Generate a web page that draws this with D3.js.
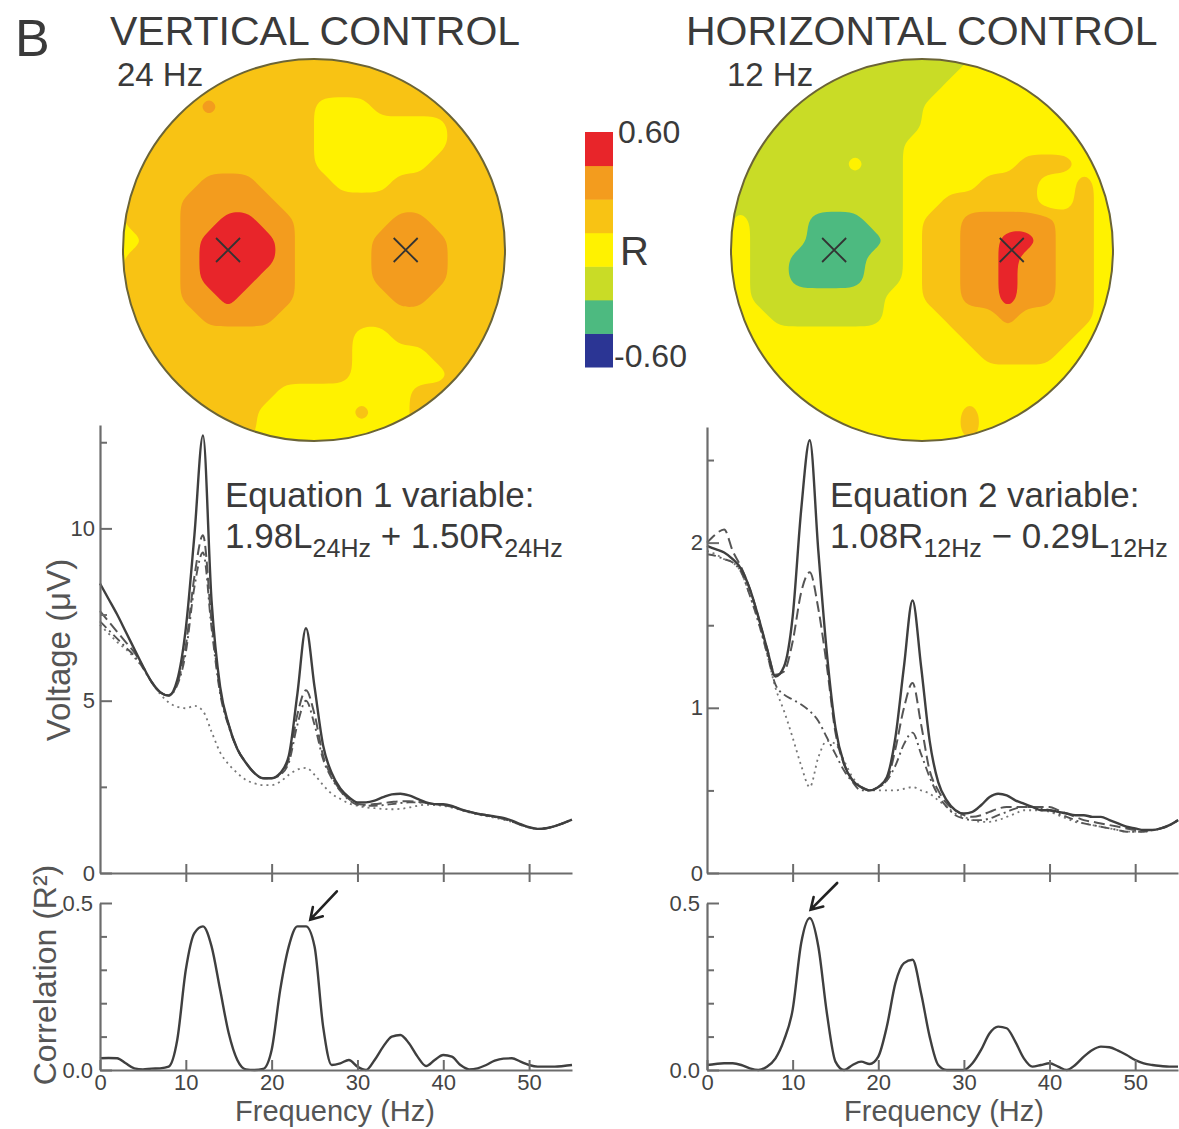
<!DOCTYPE html>
<html>
<head>
<meta charset="utf-8">
<script src="https://cdn.jsdelivr.net/npm/d3@7"></script>
<style>
  body { margin: 0; background: #fff; }
  text { font-family: "Liberation Sans", Arial, Helvetica, sans-serif; }
</style>
</head>
<body>
<div id="chart"></div>
<script>
// ---- data ----
const freqs = [0,1,2,3,4,5,6,7,8,9,10,11,12,13,14,15,16,17,18,19,20,21,22,23,24,25,26,27,
  28,29,30,31,32,33,34,35,36,37,38,39,40,41,42,43,44,45,46,47,48,49,50,51,52,53,54,55];

// vertical control, voltage (uV)
const voltSolidL = [8.4,7.95,7.5,7.0,6.5,6.0,5.55,5.25,5.15,5.6, 7.1,9.8,12.7,7.9,5.4,4.3,3.6,3.2,2.9,2.75,
  2.75,2.9,3.4,5.2,7.1,5.4,3.7,2.9,2.45,2.2, 2.05,2.05,2.1,2.2,2.28,2.3,2.25,2.15,2.05,2.0,
  2.0,1.95,1.85,1.78,1.72,1.68,1.64,1.6,1.52,1.42, 1.33,1.28,1.3,1.36,1.45,1.55];
const voltDashL = [7.6,7.3,7.0,6.7,6.4,6.0,5.55,5.25,5.15,5.5, 6.6,8.6,9.8,7.3,5.3,4.3,3.6,3.2,2.9,2.75,
  2.75,2.88,3.3,4.6,5.3,4.6,3.4,2.8,2.4,2.15, 2.0,1.98,2.0,2.03,2.06,2.08,2.08,2.06,2.04,2.0,
  1.98,1.93,1.85,1.78,1.72,1.68,1.63,1.58,1.5,1.4, 1.32,1.28,1.3,1.36,1.45,1.55];
const voltDashDotL = [7.3,7.05,6.8,6.55,6.3,5.95,5.55,5.25,5.15,5.45, 6.4,8.3,9.3,7.1,5.2,4.25,3.6,3.2,2.9,2.75,
  2.75,2.85,3.2,4.3,5.0,4.3,3.3,2.75,2.38,2.12, 1.98,1.95,1.95,1.97,2.0,2.03,2.05,2.05,2.03,2.0,
  1.97,1.92,1.85,1.78,1.72,1.67,1.62,1.57,1.49,1.4, 1.32,1.28,1.3,1.36,1.45,1.55];
const voltDotL = [7.2,6.95,6.7,6.5,6.25,5.95,5.55,5.2,4.95,4.82, 4.78,4.85,4.7,4.1,3.5,3.15,2.9,2.7,2.6,2.55,
  2.55,2.65,2.85,3.0,3.05,2.85,2.55,2.3,2.15,2.02, 1.95,1.9,1.88,1.86,1.85,1.86,1.9,1.95,1.98,1.97,
  1.95,1.9,1.83,1.76,1.7,1.65,1.6,1.55,1.48,1.4, 1.32,1.28,1.3,1.36,1.45,1.55];

// horizontal control, voltage (uV)
const voltSolidR = [1.98,1.96,1.94,1.9,1.84,1.72,1.55,1.36,1.19,1.25, 1.55,2.2,2.62,1.95,1.33,0.88,0.66,0.56,0.52,0.5,
  0.52,0.58,0.82,1.25,1.65,1.25,0.8,0.55,0.44,0.38, 0.36,0.37,0.41,0.46,0.48,0.47,0.44,0.42,0.4,0.38,
  0.38,0.37,0.36,0.35,0.35,0.34,0.34,0.32,0.3,0.28, 0.27,0.26,0.26,0.27,0.29,0.32];
const voltDashR = [2.0,2.05,2.08,1.95,1.85,1.72,1.55,1.36,1.2,1.22, 1.4,1.7,1.82,1.6,1.25,0.85,0.66,0.56,0.52,0.5,
  0.52,0.56,0.75,1.0,1.15,0.9,0.62,0.5,0.42,0.38, 0.35,0.34,0.35,0.37,0.39,0.4,0.4,0.4,0.4,0.4,
  0.4,0.38,0.36,0.34,0.32,0.31,0.3,0.29,0.28,0.27, 0.26,0.26,0.26,0.27,0.29,0.32];
const voltDashDotR = [1.93,1.92,1.9,1.88,1.82,1.68,1.52,1.33,1.14,1.08, 1.05,1.02,0.98,0.92,0.82,0.72,0.62,0.55,0.5,0.5,
  0.52,0.56,0.65,0.78,0.85,0.72,0.58,0.47,0.4,0.35, 0.33,0.32,0.32,0.33,0.35,0.37,0.39,0.4,0.4,0.39,
  0.38,0.36,0.34,0.32,0.3,0.29,0.28,0.27,0.26,0.25, 0.25,0.25,0.26,0.27,0.29,0.32];
const voltDotR = [1.95,1.93,1.9,1.88,1.82,1.68,1.52,1.33,1.12,0.98, 0.82,0.65,0.52,0.7,0.8,0.78,0.68,0.58,0.52,0.5,
  0.5,0.5,0.5,0.51,0.52,0.5,0.48,0.44,0.4,0.36, 0.34,0.32,0.31,0.31,0.32,0.34,0.36,0.38,0.38,0.38,
  0.37,0.35,0.33,0.31,0.3,0.29,0.28,0.27,0.26,0.25, 0.25,0.25,0.26,0.27,0.29,0.32];

// correlation (R^2)
const corrL = [0.035,0.036,0.035,0.02,0.005,0.002,0.004,0.005,0.01,0.09, 0.3,0.41,0.43,0.37,0.24,0.11,0.03,0.002,0.0,0.003,
  0.06,0.24,0.37,0.43,0.43,0.37,0.13,0.015,0.02,0.03, 0.01,0.0,0.03,0.07,0.1,0.105,0.08,0.04,0.012,0.03,
  0.045,0.04,0.015,0.002,0.005,0.015,0.028,0.034,0.035,0.025, 0.015,0.01,0.01,0.01,0.012,0.015];
const corrR = [0.015,0.018,0.02,0.02,0.015,0.005,0.0,0.01,0.035,0.09, 0.18,0.38,0.455,0.37,0.17,0.025,0.0,0.015,0.025,0.018,
  0.04,0.13,0.26,0.32,0.33,0.23,0.1,0.015,0.0,0.0, 0.0,0.02,0.06,0.11,0.13,0.125,0.085,0.035,0.01,0.015,
  0.02,0.01,0.0,0.015,0.04,0.06,0.07,0.068,0.058,0.045, 0.03,0.02,0.015,0.012,0.01,0.01];

// topographic maps: one digit per cell = colour band (0 = -0.60 ... 6 = +0.60)
const mapVertical = [
  "44444444444444444444",
  "44444444444444444444",
  "44445444443334444444",
  "44444444443333333444",
  "44444444443333333444",
  "44444444443333334444",
  "44445554444333444444",
  "44455555444444444444",
  "44455665544444554444",
  "34456666544445555444",
  "44456666544445555444",
  "44456665544445555444",
  "44455655544444554444",
  "44445555444444444444",
  "44444444444433444444",
  "44444444444433334444",
  "44444444444433333444",
  "44444444333333344444",
  "44444443333343344444",
  "44444443333333344444"
];
const mapHorizontal = [
  "33332222222233333333",
  "33322222222333333333",
  "32222222223333333333",
  "22222222223333333333",
  "22222222233333333333",
  "22222232233333344433",
  "22222222233334443343",
  "22222222233444443343",
  "32221112234455555443",
  "32221111234455665443",
  "32211112234455655443",
  "32211112234455655443",
  "32222222334455655443",
  "33222222333444544443",
  "33333333333344444433",
  "33333333333334444333",
  "33333333333333333333",
  "33333333333333333333",
  "33333333333343333333",
  "33333333333343333333"
];
// electrode positions, in head radii from the centre
const electrodesVertical = [[-0.45, 0], [0.48, 0]];
const electrodesHorizontal = [[-0.46, 0], [0.47, 0]];

const bandColors = ["#2b3594", "#4dba80", "#c9dc26", "#fff200", "#f8c314", "#f39c1e", "#e8252a"];
const bandThresholds = [-0.5, 0.5, 1.5, 2.5, 3.5, 4.5, 5.5];
const colorbarLabels = ["0.60", "R", "-0.60"];

const voltTicksL = [0, 5, 10], voltMinorL = [2.5, 7.5, 12.5];
const voltTicksR = [0, 1, 2], voltMinorR = [0.5, 1.5, 2.5];
const freqTicks = [0, 10, 20, 30, 40, 50];
const corrTicks = [0, 0.5], corrMinor = [0.1, 0.2, 0.3, 0.4];

// ---- drawing ----
const W = 1179, H = 1129;
const ink = "#3a3a3a", axisCol = "#6c6c6c", lineCol = "#3f3f3f";

const svg = d3.select("#chart").append("svg")
  .attr("width", W).attr("height", H)
  .style("background", "#fff");

function txt(x, y, s, size, anchor) {
  return svg.append("text")
    .attr("x", x).attr("y", y)
    .attr("font-size", size)
    .attr("fill", ink)
    .attr("text-anchor", anchor || "start")
    .text(s);
}

// heads
function drawHead(rows, cx, cy, r, electrodes, id) {
  const nx = rows[0].length, ny = rows.length;
  const values = rows.join("").split("").map(Number);
  const contours = d3.contours().size([nx, ny]).thresholds(bandThresholds)(values);
  const sx = 2 * r / nx, sy = 2 * r / ny;
  // rounded outlines so the bands look like the smooth blobs of the figure
  const ring = d3.line().curve(d3.curveBasisClosed);
  const toPath = mp => mp.coordinates
    .map(poly => poly.map(rg => ring(rg.slice(0, -1).map(p => [cx - r + p[0] * sx, cy - r + p[1] * sy]))).join(""))
    .join("");

  svg.append("clipPath").attr("id", id)
    .append("circle").attr("cx", cx).attr("cy", cy).attr("r", r);

  const g = svg.append("g").attr("clip-path", `url(#${id})`);
  g.append("circle").attr("cx", cx).attr("cy", cy).attr("r", r).attr("fill", bandColors[3]);
  g.selectAll("path")
    .data(contours)
    .join("path")
      .attr("d", toPath)
      .attr("fill-rule", "evenodd")
      .attr("fill", (d, i) => bandColors[i]);

  svg.append("circle")
    .attr("cx", cx).attr("cy", cy).attr("r", r)
    .attr("fill", "none")
    .attr("stroke", "#6b6436")
    .attr("stroke-width", 2);

  const s = 12;
  electrodes.forEach(e => {
    const ex = cx + e[0] * r, ey = cy + e[1] * r;
    svg.append("path")
      .attr("d", `M${ex - s},${ey - s}L${ex + s},${ey + s}M${ex - s},${ey + s}L${ex + s},${ey - s}`)
      .attr("stroke", "#333")
      .attr("stroke-width", 1.8);
  });
}

drawHead(mapVertical, 314, 250, 191, electrodesVertical, "clipV");
drawHead(mapHorizontal, 922, 250, 191, electrodesHorizontal, "clipH");

// colour bar
const cbY = d3.scaleLinear().domain([0, bandColors.length]).range([367, 132]);
svg.append("g").selectAll("rect")
  .data(bandColors)
  .join("rect")
    .attr("x", 585)
    .attr("width", 28)
    .attr("y", (d, i) => cbY(i + 1))
    .attr("height", (d, i) => cbY(i) - cbY(i + 1) + 0.5)
    .attr("fill", d => d);
txt(618, 143, colorbarLabels[0], 32);
txt(620, 265, colorbarLabels[1], 40);
txt(614, 367, colorbarLabels[2], 32);

// titles
txt(15, 56, "B", 52);
txt(110, 45, "VERTICAL CONTROL", 41);
txt(117, 86, "24 Hz", 33);
txt(686, 45, "HORIZONTAL CONTROL", 41);
txt(727, 86, "12 Hz", 33);

// axis helpers
function styleAxis(g, fontSize) {
  g.select(".domain").attr("stroke", axisCol).attr("stroke-width", 2.2);
  g.selectAll(".tick line").attr("stroke", axisCol).attr("stroke-width", 2);
  g.selectAll(".tick text").attr("fill", "#444").attr("font-size", fontSize)
    .attr("font-family", "'Liberation Sans', Arial, sans-serif");
}

function yAxis(x0, scale, major, minor, fmt, pad) {
  svg.append("g").attr("transform", `translate(${x0},0)`)
    .call(d3.axisLeft(scale).tickValues(minor).tickFormat("").tickSizeInner(-7).tickSizeOuter(0))
    .call(g => { styleAxis(g, 22); g.select(".domain").remove(); });
  svg.append("g").attr("transform", `translate(${x0},0)`)
    .call(d3.axisLeft(scale).tickValues(major).tickFormat(fmt).tickSizeInner(-12).tickSizeOuter(0).tickPadding(pad))
    .call(g => styleAxis(g, 22));
}

function voltXAxis(y0, scale) {
  svg.append("g").attr("transform", `translate(0,${y0})`)
    .call(d3.axisBottom(scale).tickValues(freqTicks.slice(1)).tickFormat("").tickSizeOuter(0))
    .call(g => {
      styleAxis(g, 22);
      g.selectAll(".tick line").attr("y1", -9).attr("y2", 9);
    });
}

function corrXAxis(y0, scale) {
  svg.append("g").attr("transform", `translate(0,${y0})`)
    .call(d3.axisBottom(scale).tickValues(freqTicks).tickFormat(d3.format("d"))
      .tickSizeInner(-10).tickSizeOuter(0).tickPadding(4))
    .call(g => styleAxis(g, 22));
}

const seriesStyles = [
  { dash: "2,4", width: 1.8, color: "#777" },
  { dash: "9,4,2,4", width: 1.9, color: "#555" },
  { dash: "11,5", width: 2.0, color: "#555" },
  { dash: null, width: 2.4, color: lineCol }
];

function drawLines(series, xs, ys) {
  const line = d3.line()
    .x((d, i) => xs(freqs[i]))
    .y(d => ys(d))
    .curve(d3.curveMonotoneX);
  series.forEach((s, k) => {
    const st = seriesStyles[seriesStyles.length - series.length + k];
    svg.append("path")
      .datum(s)
      .attr("d", line)
      .attr("fill", "none")
      .attr("stroke", st.color)
      .attr("stroke-width", st.width)
      .attr("stroke-dasharray", st.dash)
      .attr("stroke-linejoin", "round");
  });
}

function arrow(xs, ys, tip, tail) {
  const x1 = xs(tail[0]), y1 = ys(tail[1]), x2 = xs(tip[0]), y2 = ys(tip[1]);
  const a = Math.atan2(y2 - y1, x2 - x1), L = 13, spread = 0.55;
  const p1 = [x2 - L * Math.cos(a - spread), y2 - L * Math.sin(a - spread)];
  const p2 = [x2 - L * Math.cos(a + spread), y2 - L * Math.sin(a + spread)];
  svg.append("path")
    .attr("d", `M${x1},${y1}L${x2},${y2}M${p1[0]},${p1[1]}L${x2},${y2}L${p2[0]},${p2[1]}`)
    .attr("fill", "none")
    .attr("stroke", "#222")
    .attr("stroke-width", 2.6)
    .attr("stroke-linecap", "round");
}

// ---- left panels ----
const xL = d3.scaleLinear().domain([0, 55]).range([100, 572]);
const yVL = d3.scaleLinear().domain([0, 13]).range([873, 425]);
const yCL = d3.scaleLinear().domain([0, 0.5]).range([1070, 903]);

drawLines([voltDotL, voltDashDotL, voltDashL, voltSolidL], xL, yVL);
yAxis(100, yVL, voltTicksL, voltMinorL, d3.format("d"), 5);
voltXAxis(873, xL);

drawLines([corrL], xL, yCL);
yAxis(100, yCL, corrTicks, corrMinor, d3.format(".1f"), 7);
corrXAxis(1070, xL);
arrow(xL, yCL, [24.5, 0.45], [27.6, 0.535]);

// ---- right panels ----
const xR = d3.scaleLinear().domain([0, 55]).range([707, 1178]);
const yVR = d3.scaleLinear().domain([0, 2.7]).range([873, 427]);
const yCR = d3.scaleLinear().domain([0, 0.5]).range([1070, 903]);

drawLines([voltDotR, voltDashDotR, voltDashR, voltSolidR], xR, yVR);
yAxis(707, yVR, voltTicksR, voltMinorR, d3.format("d"), 4);
voltXAxis(873, xR);

drawLines([corrR], xR, yCR);
yAxis(707, yCR, corrTicks, corrMinor, d3.format(".1f"), 7);
corrXAxis(1070, xR);
arrow(xR, yCR, [12.1, 0.48], [15.2, 0.56]);

// equations
function equation(x, y, parts) {
  const t = svg.append("text").attr("x", x).attr("y", y).attr("font-size", 35).attr("fill", ink);
  parts.forEach(p => {
    t.append("tspan")
      .attr("font-size", p.sub ? 25 : 35)
      .attr("dy", p.sub ? 9 : (p.after ? -9 : 0))
      .text(p.s);
  });
}
txt(225, 507, "Equation 1 variable:", 35);
equation(225, 548, [
  { s: "1.98L" }, { s: "24Hz", sub: true }, { s: " + 1.50R", after: true }, { s: "24Hz", sub: true }
]);
txt(830, 507, "Equation 2 variable:", 35);
equation(830, 548, [
  { s: "1.08R" }, { s: "12Hz", sub: true }, { s: " \u2212 0.29L", after: true }, { s: "12Hz", sub: true }
]);

// axis titles
svg.append("text")
  .attr("transform", "translate(70,650) rotate(-90)")
  .attr("text-anchor", "middle").attr("font-size", 33).attr("fill", "#555")
  .text("Voltage (\u03BCV)");
svg.append("text")
  .attr("transform", "translate(56,975) rotate(-90)")
  .attr("text-anchor", "middle").attr("font-size", 32).attr("fill", "#555")
  .text("Correlation (R\u00B2)");
txt(335, 1121, "Frequency (Hz)", 29, "middle").attr("fill", "#555");
txt(944, 1121, "Frequency (Hz)", 29, "middle").attr("fill", "#555");
</script>
</body>
</html>
